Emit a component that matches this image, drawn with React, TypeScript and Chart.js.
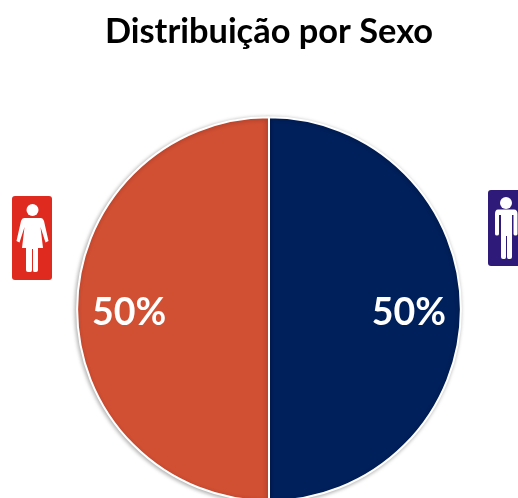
import React, { useEffect, useRef } from "react";
import { Chart, registerables } from "chart.js";

Chart.register(...registerables);

const categories = ["Masculino", "Feminino"];
const values = [50, 50];
const colors = ["#00205C", "#D14F33"];
const titleText = "Distribuição por Sexo";

const pieExtras = {
  id: "pieExtras",
  beforeDatasetsDraw(chart: any) {
    const ctx = chart.ctx;
    ctx.save();
    ctx.shadowColor = "rgba(0,0,0,0.3)";
    ctx.shadowBlur = 4;
    ctx.shadowOffsetX = -1;
    ctx.shadowOffsetY = 1;
  },
  afterDatasetsDraw(chart: any) {
    const ctx = chart.ctx;
    ctx.restore();
    const meta = chart.getDatasetMeta(0);
    ctx.save();
    ctx.font = "bold 37.5px Lato, Carlito, sans-serif";
    ctx.fillStyle = "#FFFFFF";
    ctx.textAlign = "center";
    ctx.textBaseline = "middle";
    meta.data.forEach((arc: any, i: number) => {
      const p = arc.getProps(["x", "y", "startAngle", "endAngle", "outerRadius"], true);
      const mid = (p.startAngle + p.endAngle) / 2;
      const px = p.x + Math.cos(mid) * p.outerRadius * 0.729;
      ctx.fillText(`${values[i]}%`, px, p.y + 4);
    });
    ctx.restore();
  },
};

function Female() {
  return (
    <svg width="40" height="84" viewBox="0 0 40 84" style={{ position: "absolute", left: 12, top: 196 }}>
      <rect width="40" height="84" rx="3" fill="#DF2A20" />
      <circle cx="20.5" cy="14" r="6" fill="#fff" />
      <path
        d="M12 22 H29 Q31 22 32 25 L36.5 45 L33.5 46.5 L28.5 31 L31 52 H26 V74 Q26 76 24 76 H22 Q21 76 21 74 V53 H20 V74 Q20 76 18.5 76 H16 Q14 76 14 74 V52 H10 L12.5 31 L7.5 46.5 L4.5 45 L9 25 Q10 22 12 22 Z"
        fill="#fff"
      />
    </svg>
  );
}

function Male() {
  return (
    <svg width="30" height="76" viewBox="0 0 30 76" style={{ position: "absolute", left: 488, top: 190 }}>
      <rect width="40" height="76" rx="3" fill="#2E1A78" />
      <circle cx="18" cy="13" r="6" fill="#fff" />
      <path
        d="M10 19.5 H26 Q29.5 19.5 29.5 24 V44 Q29.5 45.5 27.5 45.5 Q25.5 45.5 25.5 44 V25 H24 V67 Q24 69 22 69 H20.5 Q19 69 19 67 V46 H18 V67 Q18 69 16.5 69 H15 Q13 69 13 67 V25 H11 V44 Q11 45.5 9 45.5 Q7 45.5 7 44 V24 Q7 19.5 10 19.5 Z"
        fill="#fff"
      />
    </svg>
  );
}

export default function App() {
  const ref = useRef<HTMLCanvasElement>(null);
  useEffect(() => {
    document.body.style.margin = "0";
    const chart = new Chart(ref.current!, {
      type: "pie",
      data: {
        labels: categories,
        datasets: [
          {
            data: values,
            backgroundColor: colors,
            borderColor: "#FFFFFF",
            borderWidth: 2,
          },
        ],
      },
      options: {
        responsive: false,
        animation: false,
        layout: { padding: { left: 20, top: 0, right: 0, bottom: 0 } },
        plugins: {
          legend: { display: false },
          tooltip: { enabled: false },
          title: {
            display: true,
            text: titleText,
            color: "#000000",
            font: { family: "Lato, Carlito, sans-serif", size: 34.4, weight: "bold" },
            padding: { top: 11, bottom: 64 },
          },
        },
      },
      plugins: [pieExtras],
    });
    return () => chart.destroy();
  }, []);
  return (
    <div style={{ position: "relative", width: 518, height: 498, overflow: "hidden" }}>
      <canvas ref={ref} width={518} height={502} style={{ display: "block" }} />
      <Female />
      <Male />
    </div>
  );
}
